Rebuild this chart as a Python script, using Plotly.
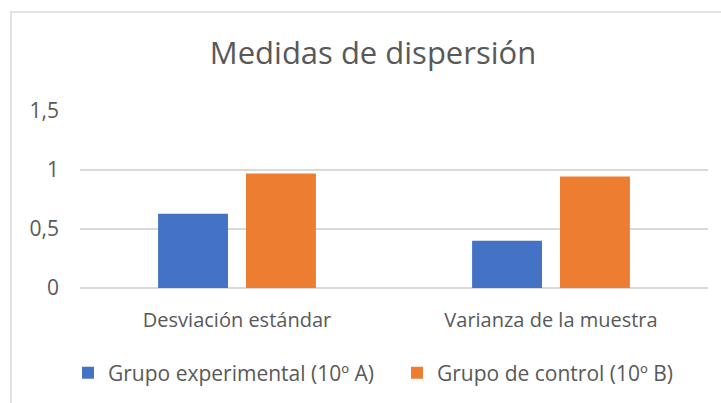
import plotly.graph_objects as go

# Data
categories = ['Desviación estándar', 'Varianza de la muestra']
series_names = ['Grupo experimental (10º A)', 'Grupo de control (10º B)']
experimental = [0.63, 0.40]
control = [0.97, 0.945]
y_ticks = [0, 0.5, 1, 1.5]

BLUE = '#4472C4'
ORANGE = '#ED7D31'
TEXT = '#595959'
GRID = '#D9D9D9'
font_family = 'Open Sans, Noto Sans, sans-serif'

# plot area in pixels: x 80..708, y 111..288
PL, PR, PT, PB = 80, 708, 111, 288

# one legend per series so the two entries sit where Excel put them
legend_ids = ['legend', 'legend2']
legend_x = [68, 397]

fig = go.Figure()
for name, vals, color, lg in zip(series_names, [experimental, control], [BLUE, ORANGE], legend_ids):
    fig.add_trace(go.Bar(
        x=categories,
        y=vals,
        name=name,
        legend=lg,
        marker=dict(color=color, line=dict(width=0)),
    ))

legend_style = dict(
    orientation='h',
    xref='container', yref='container',
    y=1 - 373 / 403,
    xanchor='left', yanchor='middle',
    font=dict(size=21, color=TEXT),
    itemwidth=30,
    bgcolor='rgba(0,0,0,0)',
)

fig.update_layout(
    width=721,
    height=403,
    plot_bgcolor='white',
    paper_bgcolor='white',
    separators=',.',
    font=dict(family=font_family, color=TEXT),
    title=dict(
        text='Medidas de dispersión',
        xref='container', yref='container',
        x=373 / 721, y=1 - 53 / 403,
        xanchor='center', yanchor='middle',
        font=dict(size=31, color=TEXT, family=font_family),
    ),
    margin=dict(l=PL, r=721 - PR, t=PT, b=403 - PB),
    barmode='group',
    bargap=0.44,
    bargroupgap=0.205,
    showlegend=True,
    legend=dict(legend_style, x=legend_x[0] / 721),
    legend2=dict(legend_style, x=legend_x[1] / 721),
    xaxis=dict(
        showgrid=False,
        showline=False,
        ticks='',
        tickfont=dict(size=20, color=TEXT),
        ticklabelstandoff=18,
    ),
    yaxis=dict(
        range=[0, 1.5],
        tickvals=y_ticks,
        showgrid=True,
        gridcolor=GRID,
        gridwidth=1.5,
        zeroline=True,
        zerolinecolor=GRID,
        zerolinewidth=1.5,
        showline=False,
        tickfont=dict(size=21, color=TEXT),
        ticklabelstandoff=20,
    ),
    shapes=[dict(
        type='rect', xref='paper', yref='paper',
        x0=(11 - PL) / (PR - PL), x1=1.3,
        y0=-1.5, y1=1 + (PT - 12) / (PB - PT),
        line=dict(color=GRID, width=1.5),
        fillcolor='rgba(0,0,0,0)',
        layer='below',
    )],
)

fig.write_html('out.html', config={'displayModeBar': False},
               post_script="document.body.style.margin='0';")
